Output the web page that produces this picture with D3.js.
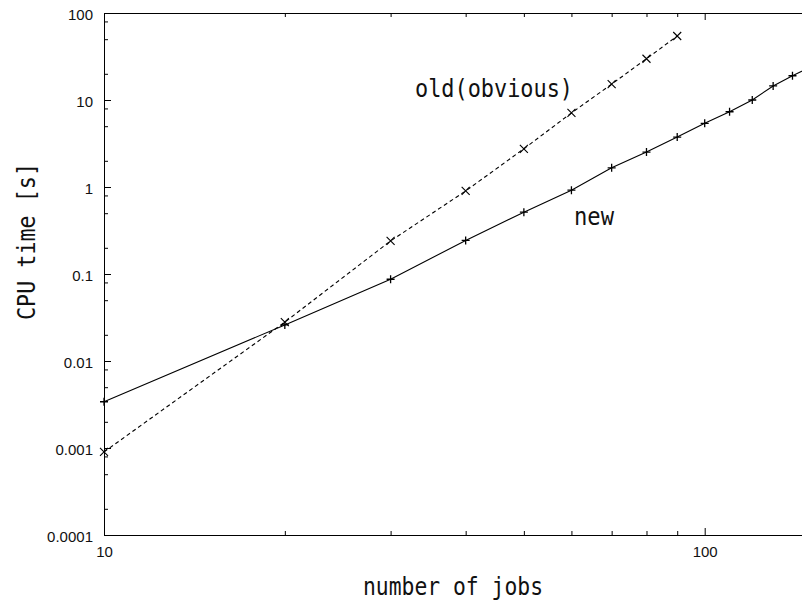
<!DOCTYPE html>
<html>
<head>
<meta charset="utf-8">
<script src="https://cdn.jsdelivr.net/npm/d3@7"></script>
<style>
  html, body { margin: 0; padding: 0; background: #fff; }
  svg { display: block; }
  .tick text { font-family: "Liberation Sans", Arial, sans-serif; font-size: 15px; fill: #111; }
  .domain, .tick line { stroke: #000; stroke-width: 1; }
</style>
</head>
<body>
<svg id="chart" width="802" height="601"></svg>
<script>
// ---- data ----
const jobsNew = [10, 20, 30, 40, 50, 60, 70, 80, 90, 100, 110, 120, 130, 140, 150];
const timeNew = [0.0034, 0.026, 0.087, 0.243, 0.514, 0.92, 1.66, 2.52, 3.75, 5.39, 7.33, 10.0, 14.5, 19.0, 24];
const jobsOld = [10, 20, 30, 40, 50, 60, 70, 80, 90];
const timeOld = [0.0009, 0.028, 0.24, 0.9, 2.75, 7.1, 15.2, 29.8, 54.4];

const xMajorTicks = [10, 100];
const xMajorLabels = ["10", "100"];
const xMinorTicks = [20, 30, 40, 50, 60, 70, 80, 90];
const yMajorTicks = [0.0001, 0.001, 0.01, 0.1, 1, 10, 100];
const yMajorLabels = ["0.0001", "0.001", "0.01", "0.1", "1", "10", "100"];
const yMinorMultipliers = [2, 5, 8];

const labelOld = "old(obvious)";
const labelNew = "new";
const xTitle = "number of jobs";
const yTitle = "CPU time [s]";

// ---- layout ----
const mLeft = 104, mTop = 13, mBottom = 535;
const decadeX = 600.7;
const svg = d3.select("#chart");

const x = d3.scaleLog().domain([10, 150]).range([mLeft, mLeft + decadeX * Math.log10(15)]);
const y = d3.scaleLog().domain([0.0001, 100]).range([mBottom, mTop]);

const yMinorTicks = [];
yMajorTicks.slice(0, -1).forEach(v => yMinorMultipliers.forEach(m => yMinorTicks.push(v * m)));

// axes
const fmtX = d => xMajorLabels[xMajorTicks.indexOf(d)];
const fmtY = d => yMajorLabels[yMajorTicks.findIndex(v => Math.abs(v - d) / v < 1e-6)];

svg.append("g").attr("transform", `translate(0,${mBottom})`)
  .call(d3.axisBottom(x).tickValues(xMajorTicks).tickFormat(fmtX).tickSizeInner(-7).tickSizeOuter(0).tickPadding(11));
svg.append("g").attr("transform", `translate(0,${mBottom})`)
  .call(d3.axisBottom(x).tickValues(xMinorTicks).tickFormat("").tickSizeInner(-4).tickSizeOuter(0))
  .select(".domain").remove();

svg.append("g").attr("transform", `translate(0,${mTop})`)
  .call(d3.axisTop(x).tickValues(xMajorTicks).tickFormat("").tickSizeInner(-7).tickSizeOuter(0));
svg.append("g").attr("transform", `translate(0,${mTop})`)
  .call(d3.axisTop(x).tickValues(xMinorTicks).tickFormat("").tickSizeInner(-4).tickSizeOuter(0))
  .select(".domain").remove();

const yAxisG = svg.append("g").attr("transform", `translate(${mLeft},0)`)
  .call(d3.axisLeft(y).tickValues(yMajorTicks).tickFormat(fmtY).tickSizeInner(-7).tickSizeOuter(0).tickPadding(11));
yAxisG.selectAll(".tick text").attr("dy", "0.45em");
svg.append("g").attr("transform", `translate(${mLeft},0)`)
  .call(d3.axisLeft(y).tickValues(yMinorTicks).tickFormat("").tickSizeInner(-4).tickSizeOuter(0))
  .select(".domain").remove();

svg.selectAll(".tick text").attr("fill", "#111");

// lines
const lineNew = d3.line().x((d, i) => x(jobsNew[i])).y(d => y(d));
const lineOld = d3.line().x((d, i) => x(jobsOld[i])).y(d => y(d));

svg.append("path").attr("d", lineNew(timeNew))
  .attr("fill", "none").attr("stroke", "#000").attr("stroke-width", 1.1);
svg.append("path").attr("d", lineOld(timeOld))
  .attr("fill", "none").attr("stroke", "#000").attr("stroke-width", 1.1).attr("stroke-dasharray", "4,3");

// markers
const s = 4;
svg.append("g").selectAll("path").data(timeNew).join("path")
  .attr("d", (d, i) => {
    const cx = x(jobsNew[i]), cy = y(d);
    return `M${cx - s},${cy}H${cx + s}M${cx},${cy - s}V${cy + s}`;
  })
  .attr("stroke", "#000").attr("stroke-width", 1.3);
svg.append("g").selectAll("path").data(timeOld).join("path")
  .attr("d", (d, i) => {
    const cx = x(jobsOld[i]), cy = y(d);
    return `M${cx - s},${cy - s}L${cx + s},${cy + s}M${cx - s},${cy + s}L${cx + s},${cy - s}`;
  })
  .attr("stroke", "#000").attr("stroke-width", 1.1);

// labels
const mono = "'DejaVu Sans Mono', monospace";
svg.append("text").attr("x", 415).attr("y", 97).text(labelOld)
  .attr("font-family", mono).attr("font-size", 25).attr("fill", "#111")
  .attr("textLength", 158).attr("lengthAdjust", "spacingAndGlyphs");
svg.append("text").attr("x", 574).attr("y", 225).text(labelNew)
  .attr("font-family", mono).attr("font-size", 25).attr("fill", "#111")
  .attr("textLength", 40).attr("lengthAdjust", "spacingAndGlyphs");
svg.append("text").attr("x", 363).attr("y", 595).text(xTitle)
  .attr("font-family", mono).attr("font-size", 24).attr("fill", "#111")
  .attr("textLength", 180).attr("lengthAdjust", "spacingAndGlyphs");
svg.append("text").attr("transform", "translate(35,320) rotate(-90)").text(yTitle)
  .attr("font-family", mono).attr("font-size", 24).attr("fill", "#111")
  .attr("textLength", 157).attr("lengthAdjust", "spacingAndGlyphs");
</script>
</body>
</html>
